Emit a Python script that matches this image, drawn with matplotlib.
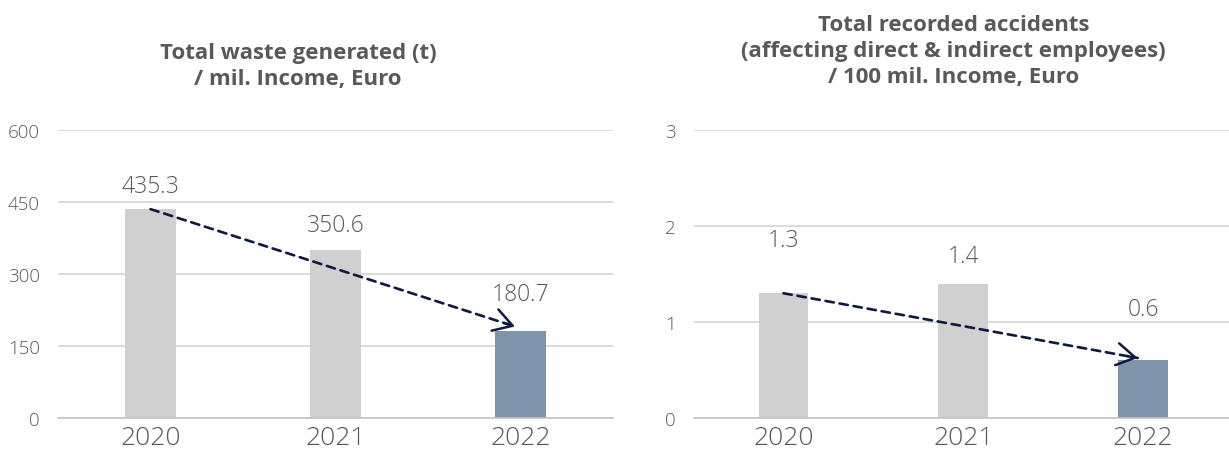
import matplotlib
matplotlib.use("Agg")
import matplotlib.pyplot as plt

# Data
years = ["2020", "2021", "2022"]
waste = [435.3, 350.6, 180.7]
accidents = [1.3, 1.4, 0.6]
waste_labels = ["435.3", "350.6", "180.7"]
accident_labels = ["1.3", "1.4", "0.6"]
waste_ticks = [0, 150, 300, 450, 600]
accident_ticks = [0, 1, 2, 3]

title_left = "Total waste generated (t)\n/ mil. Income, Euro"
title_right = ("Total recorded accidents\n(affecting direct & indirect employees)\n"
               "/ 100 mil. Income, Euro")

GREY_BAR = "#D0D0D0"
BLUE_BAR = "#7F93AB"
NAVY = "#0E1A40"
TEXT = "#595959"
GRID = "#D4D4D4"

plt.rcParams["font.family"] = ["Open Sans", "DejaVu Sans"]


def draw_panel(ax, values, labels, ticks, label_offsets, arrow_lift):
    x = list(range(len(years)))
    colors = [GREY_BAR, GREY_BAR, BLUE_BAR]
    ax.bar(x, values, width=0.276, color=colors, zorder=2)
    ax.set_xlim(-0.5, 2.5)
    ax.set_ylim(ticks[0], ticks[-1])
    ax.set_yticks(ticks)
    ax.set_xticks(x)
    ax.set_xticklabels(years, fontsize=19, color=TEXT, fontweight="light")
    ax.tick_params(axis="y", labelsize=13.5, colors=TEXT, length=0, pad=13)
    ax.tick_params(axis="x", length=0, pad=5)
    for lbl in ax.get_yticklabels():
        lbl.set_fontweight("light")
    ax.grid(axis="y", color=GRID, lw=1.2, zorder=0)
    for s in ["top", "right", "left"]:
        ax.spines[s].set_visible(False)
    ax.spines["bottom"].set_color("#C4C4C4")
    ax.spines["bottom"].set_linewidth(1.2)

    # value labels
    for xi, v, t, off in zip(x, values, labels, label_offsets):
        ax.annotate(t, (xi, v), xytext=(0, off), textcoords="offset pixels",
                    ha="center", va="center", fontsize=16.5, color=TEXT,
                    fontweight="light")

    # dashed trend arrow
    start = (x[0], values[0])
    end = (x[-1] - 0.03, values[-1] + arrow_lift)
    ax.annotate("", xy=end, xytext=start,
                arrowprops=dict(arrowstyle="-", color=NAVY, lw=1.9,
                                ls=(0, (3.2, 2.2)), shrinkA=0, shrinkB=0),
                zorder=3)
    back = (end[0] - 0.03 * (end[0] - start[0]),
            end[1] - 0.03 * (end[1] - start[1]))
    ax.annotate("", xy=end, xytext=back,
                arrowprops=dict(arrowstyle="->,head_length=1.33,head_width=0.8",
                                color=NAVY, lw=1.8, shrinkA=0, shrinkB=0),
                zorder=3)


fig = plt.figure(figsize=(12.29, 4.52), dpi=100)
ax1 = fig.add_axes([0.0472, 0.073, 0.4516, 0.637])
ax2 = fig.add_axes([0.5643, 0.073, 0.4390, 0.637])

draw_panel(ax1, waste, waste_labels, waste_ticks, [23, 25, 37], 10)
draw_panel(ax2, accidents, accident_labels, accident_ticks, [53, 28, 51], 0.025)

fig.text(0.2425, 0.852, title_left, ha="center", va="center", fontsize=16,
         fontweight="bold", color=TEXT, linespacing=1.3)
fig.text(0.776, 0.886, title_right, ha="center", va="center", fontsize=16,
         fontweight="bold", color=TEXT, linespacing=1.3)

fig.savefig("out.png", dpi=100)
